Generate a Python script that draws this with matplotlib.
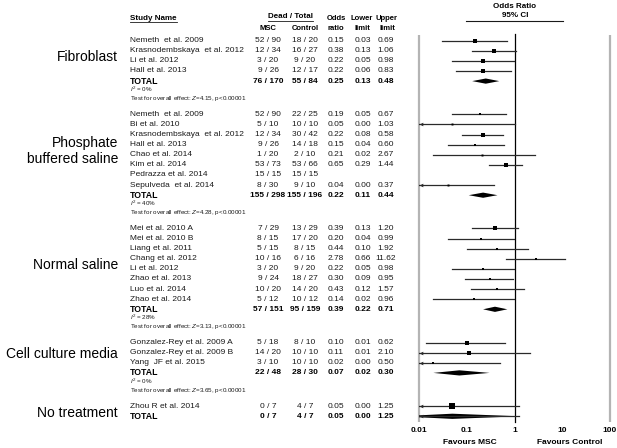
import numpy as np
import matplotlib
matplotlib.use("Agg")
import matplotlib.pyplot as plt
from matplotlib.patches import Polygon

plt.rcParams["font.family"] = ["Liberation Sans", "DejaVu Sans"]
plt.rcParams["mathtext.fontset"] = "custom"
plt.rcParams["mathtext.rm"] = "Liberation Sans"
plt.rcParams["mathtext.it"] = "Liberation Sans:italic"
plt.rcParams["mathtext.bf"] = "Liberation Sans:bold"

# ---- data -------------------------------------------------------------
group_labels = ["Fibroblast", "Phosphate\nbuffered saline", "Normal saline",
                "Cell culture media", "No treatment"]

study_group = [0] * 4 + [1] * 8 + [2] * 8 + [3] * 3 + [4]
study_names = [
    "Nemeth  et al. 2009", "Krasnodembskaya  et al. 2012", "Li et al. 2012", "Hall et al. 2013",
    "Nemeth  et al. 2009", "Bi et al. 2010", "Krasnodembskaya  et al. 2012", "Hall et al. 2013",
    "Chao et al. 2014", "Kim et al. 2014", "Pedrazza et al. 2014", "Sepulveda  et al. 2014",
    "Mei et al. 2010 A", "Mei et al. 2010 B", "Liang et al. 2011", "Chang et al. 2012",
    "Li et al. 2012", "Zhao et al. 2013", "Luo et al. 2014", "Zhao et al. 2014",
    "Gonzalez-Rey et al. 2009 A", "Gonzalez-Rey et al. 2009 B", "Yang  JF et al. 2015",
    "Zhou R et al. 2014",
]
msc_dead = [52, 12, 3, 9, 52, 5, 12, 9, 1, 53, 15, 8, 7, 8, 5, 10, 3, 9, 10, 5, 5, 14, 3, 0]
msc_n = [90, 34, 20, 26, 90, 10, 34, 26, 20, 73, 15, 30, 29, 15, 15, 16, 20, 24, 20, 12, 18, 20, 10, 7]
ctl_dead = [18, 16, 9, 12, 22, 10, 30, 14, 2, 53, 15, 9, 13, 17, 8, 6, 9, 18, 14, 10, 8, 10, 10, 4]
ctl_n = [20, 27, 20, 17, 25, 10, 42, 18, 10, 66, 15, 10, 29, 20, 15, 16, 20, 27, 20, 12, 10, 10, 10, 7]
odds_ratio = [0.15, 0.38, 0.22, 0.22, 0.19, 0.05, 0.22, 0.15, 0.21, 0.65, None, 0.04,
              0.39, 0.20, 0.44, 2.78, 0.22, 0.30, 0.43, 0.14, 0.10, 0.11, 0.02, 0.05]
ci_lower = [0.03, 0.13, 0.05, 0.06, 0.05, 0.004, 0.08, 0.04, 0.02, 0.29, None, 0.004,
            0.13, 0.04, 0.10, 0.66, 0.05, 0.09, 0.12, 0.02, 0.014, 0.006, 0.004, 0.004]
ci_upper = [0.69, 1.06, 0.98, 0.83, 0.67, 1.03, 0.58, 0.60, 2.67, 1.44, None, 0.37,
            1.20, 0.99, 1.92, 11.62, 0.98, 0.95, 1.57, 0.96, 0.62, 2.10, 0.50, 1.25]
study_weight = [20, 40, 20, 25, 15, 8, 20, 15, 8, 25, 0, 8,
                20, 15, 15, 15, 15, 18, 15, 10, 50, 20, 10, 60]

total_msc_dead = [76, 155, 57, 22, 0]
total_msc_n = [170, 298, 151, 48, 7]
total_ctl_dead = [55, 155, 95, 28, 4]
total_ctl_n = [84, 196, 159, 30, 7]
total_or = [0.25, 0.22, 0.39, 0.07, 0.05]
total_lower = [0.13, 0.11, 0.22, 0.02, 0.004]
total_upper = [0.48, 0.44, 0.71, 0.30, 1.25]
i_squared = [0, 40, 28, 0, None]
z_overall = [4.15, 4.28, 3.13, 3.65, None]

tick_values = [0.01, 0.1, 1, 10, 100]

# ---- layout (pixel coordinates, y down) --------------------------------
W, H = 617, 448
pitch = 10.1
group_gap = 33.3
x_name, x_msc, x_ctl, x_or, x_lo, x_hi = 130, 268, 305, 336, 363, 386
fs = 6.0
hfs = 5.5
ink = "#1a1a1a"

fig = plt.figure(figsize=(W / 100, H / 100), dpi=100)
ax_t = fig.add_axes([0, 0, 1, 1])
ax_t.set_xlim(0, W)
ax_t.set_ylim(H, 0)
ax_t.axis("off")

ax_f = fig.add_axes([419 / W, 0, (610 - 419) / W, 1])
ax_f.set_xscale("log")
ax_f.set_xlim(tick_values[0], tick_values[-1])
ax_f.set_ylim(H, 0)
ax_f.axis("off")
ax_f.patch.set_alpha(0)


def fmt(v):
    return "" if v is None else f"{v:.2f}"


def underline(t):
    fig.canvas.draw()
    bb = t.get_window_extent().transformed(ax_t.transData.inverted())
    ax_t.plot([bb.x0, bb.x1], [bb.y0 + 1.0, bb.y0 + 1.0], color=ink, lw=0.6)


def forest_to_page(v):
    # x of an odds-ratio value in the page (pixel) axes
    disp = ax_f.transData.transform((v, 0))
    return ax_t.transData.inverted().transform(disp)[0]


# headers
underline(ax_t.text(x_name, 18, "Study Name", fontsize=hfs + 0.3, weight="bold", va="center"))
underline(ax_t.text(290, 17, "Dead / Total", fontsize=hfs + 0.3, weight="bold", ha="center", va="center"))
ax_t.text(x_msc, 28, "MSC", fontsize=hfs, weight="bold", ha="center", va="center")
ax_t.text(x_ctl, 28, "Control", fontsize=hfs, weight="bold", ha="center", va="center")
for xc, top, bot in [(x_or, "Odds", "ratio"), (x_lo - 1, "Lower", "limit"), (x_hi + 1, "Upper", "limit")]:
    ax_t.text(xc, 18, top, fontsize=hfs, weight="bold", ha="center", va="center")
    ax_t.text(xc, 28, bot, fontsize=hfs, weight="bold", ha="center", va="center")

ax_t.text(515, 6, "Odds Ratio", fontsize=hfs + 0.3, weight="bold", ha="center", va="center")
ax_t.text(515, 15.5, "95% CI", fontsize=hfs + 0.3, weight="bold", ha="center", va="center")
ax_t.plot([466, 563], [21, 21], color=ink, lw=0.8)

# reference lines
for v in (tick_values[0], tick_values[-1]):
    xp = forest_to_page(v)
    ax_t.plot([xp, xp], [35, 422], color="#b4b4b4", lw=1.6, solid_capstyle="butt")
ax_f.plot([1, 1], [34, 422], color="black", lw=0.9, clip_on=False)

# rows
y = 40.7
for g, label in enumerate(group_labels):
    idx = [i for i, sg in enumerate(study_group) if sg == g]
    ys = []
    for i in idx:
        ys.append(y)
        ax_t.text(x_name, y, study_names[i], fontsize=fs, va="center", color=ink)
        ax_t.text(x_msc, y, f"{msc_dead[i]} / {msc_n[i]}", fontsize=fs, ha="center", va="center", color=ink)
        ax_t.text(x_ctl, y, f"{ctl_dead[i]} / {ctl_n[i]}", fontsize=fs, ha="center", va="center", color=ink)
        ax_t.text(x_or, y, fmt(odds_ratio[i]), fontsize=fs, ha="center", va="center", color=ink)
        ax_t.text(x_lo, y, fmt(ci_lower[i]), fontsize=fs, ha="center", va="center", color=ink)
        ax_t.text(x_hi, y, fmt(ci_upper[i]), fontsize=fs, ha="center", va="center", color=ink)
        if odds_ratio[i] is not None:
            ax_f.plot([ci_lower[i], ci_upper[i]], [y, y], color="#2a2a2a", lw=0.9)
            ax_f.plot(odds_ratio[i], y, marker="s", color="black",
                      ms=0.5 * np.sqrt(study_weight[i]), mew=0)
            if ci_lower[i] < tick_values[0]:
                ax_f.plot(tick_values[0] * 1.12, y, marker="<", color="#2a2a2a", ms=2.6,
                          mew=0, clip_on=False)
        y += pitch

    ty = y
    ax_t.text(x_name, ty, "TOTAL", fontsize=fs + 0.3, weight="bold", va="center")
    ax_t.text(x_msc, ty, f"{total_msc_dead[g]} / {total_msc_n[g]}", fontsize=fs, weight="bold", ha="center", va="center")
    ax_t.text(x_ctl, ty, f"{total_ctl_dead[g]} / {total_ctl_n[g]}", fontsize=fs, weight="bold", ha="center", va="center")
    ax_t.text(x_or, ty, fmt(total_or[g]), fontsize=fs, weight="bold", ha="center", va="center")
    ax_t.text(x_lo, ty, fmt(total_lower[g]), fontsize=fs, weight="bold", ha="center", va="center")
    ax_t.text(x_hi, ty, fmt(total_upper[g]), fontsize=fs, weight="bold", ha="center", va="center")

    h = 2.6
    ax_f.add_patch(Polygon([(total_lower[g], ty), (total_or[g], ty - h),
                            (total_upper[g], ty), (total_or[g], ty + h)],
                           closed=True, color="black", lw=0))
    if total_lower[g] < tick_values[0]:
        ax_f.plot([total_lower[g], total_upper[g]], [ty, ty], color="#2a2a2a", lw=0.9)
        ax_f.plot(tick_values[0] * 1.12, ty, marker="<", color="#2a2a2a", ms=2.6,
                  mew=0, clip_on=False)

    if i_squared[g] is not None:
        ax_t.text(x_name, ty + 8.5, rf"$\mathit{{I}}^{{2}}$ = {i_squared[g]}%", fontsize=4.5,
                  va="center", color=ink)
        ax_t.text(x_name, ty + 17.5, rf"Test for overall effect: $\mathit{{Z}}$={z_overall[g]:.2f}, p<0.00001",
                  fontsize=4.5, va="center", color=ink)
        label_y = np.mean(ys)
    else:
        label_y = np.mean(ys + [ty])
    ax_t.text(118, label_y + 1.5, label, fontsize=10, ha="right", va="center",
              multialignment="right", linespacing=1.15)

    y = ty + group_gap

# axis labels
for v in tick_values:
    ax_f.text(v, 430, f"{v:g}", fontsize=fs, weight="bold", ha="center", va="center")
ax_t.text(470, 442, "Favours MSC", fontsize=fs, weight="bold", ha="center", va="center")
ax_t.text(570, 442, "Favours Control", fontsize=fs, weight="bold", ha="center", va="center")

fig.savefig("out.png", dpi=100)
